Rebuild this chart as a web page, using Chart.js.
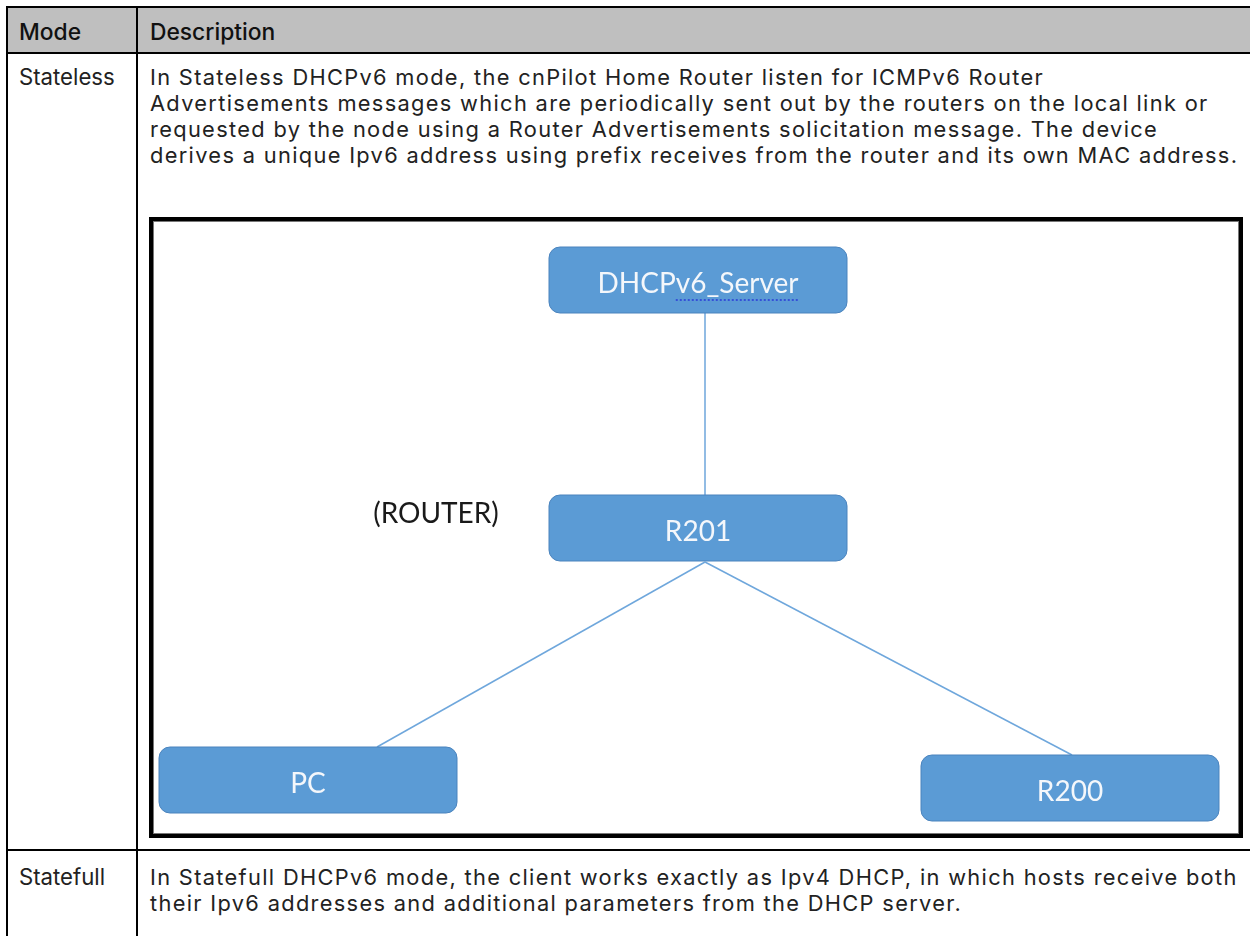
<!DOCTYPE html>
<html>
<head>
<meta charset="utf-8">
<script src="https://cdn.jsdelivr.net/npm/chart.js@4/dist/chart.umd.min.js"></script>
<style>
  html, body { margin: 0; padding: 0; background: #fff; }
  body { width: 1250px; height: 936px; position: relative; overflow: hidden; font-family: Inter, "Open Sans", sans-serif; color: #222; }
  .abs { position: absolute; }
  .line { position: absolute; white-space: nowrap; font-size: 22.2px; line-height: 26px; }
  .hdr { font-weight: 500; color: #111; font-size: 22.8px; }
  #diag { position: absolute; left: 149px; top: 217px; width: 1086px; height: 613px; border: 4px solid #000; box-shadow: inset 0 0 0 1px #777; }
  #c { position: absolute; left: 153px; top: 221px; }
</style>
</head>
<body>
<!-- table structure -->
<div class="abs" style="left:8px;top:8px;width:1242px;height:44px;background:#bfbfbf"></div>
<div class="abs" style="left:6px;top:6px;width:1244px;height:2px;background:#000"></div>
<div class="abs" style="left:6px;top:6px;width:2px;height:930px;background:#000"></div>
<div class="abs" style="left:8px;top:52px;width:1242px;height:2px;background:#000"></div>
<div class="abs" style="left:136px;top:8px;width:2px;height:928px;background:#000"></div>
<div class="abs" style="left:8px;top:849px;width:1242px;height:2px;background:#000"></div>

<div id="text"></div>
<div id="diag"></div>
<canvas id="c" width="1083" height="610"></canvas>

<script>
// ---- table text ----
const headers = ['Mode', 'Description'];
const modes = ['Stateless', 'Statefull'];
const descStateless = [
  'In Stateless DHCPv6 mode, the cnPilot Home Router listen for ICMPv6 Router',
  'Advertisements messages which are periodically sent out by the routers on the local link or',
  'requested by the node using a Router Advertisements solicitation message. The device',
  'derives a unique Ipv6 address using prefix receives from the router and its own MAC address.'
];
const descStatefull = [
  'In Statefull DHCPv6 mode, the client works exactly as Ipv4 DHCP, in which hosts receive both',
  'their Ipv6 addresses and additional parameters from the DHCP server.'
];

// ---- diagram data ----
const nodeLabels = ['DHCPv6_Server', 'R201', 'PC', 'R200'];
const nodeX = [698, 698, 308, 1070];
const nodeY = [280, 528, 780, 788];
const linkFromX = [705, 705, 705];
const linkFromY = [313, 562, 562];
const linkToX = [705, 377, 1072];
const linkToY = [495, 747, 755];
const noteLabels = ['(ROUTER)'];
const noteX = [436];
const noteY = [514];

// build text
const textRoot = document.getElementById('text');
function addLine(str, x, yCenter, cls) {
  const d = document.createElement('div');
  d.className = 'line ' + (cls || '');
  d.textContent = str;
  d.style.left = x + 'px';
  d.style.top = (yCenter - 13) + 'px';
  textRoot.appendChild(d);
  return d;
}
addLine(headers[0], 19, 32, 'hdr');
addLine(headers[1], 150, 32, 'hdr');
addLine(modes[0], 19, 77);
addLine(modes[1], 19, 877);
const bodyLines = [];
descStateless.forEach((s, i) => bodyLines.push(addLine(s, 150, 77 + i * 26)));
descStatefull.forEach((s, i) => bodyLines.push(addLine(s, 150, 877 + i * 26)));
// body: letter spacing fitted so the longest line spans the cell like the reference
bodyLines.forEach(d => d.style.fontSize = '21.8px');
const ref = bodyLines[3];
const natural = ref.getBoundingClientRect().width;
const ls = Math.max(0, (1087 - natural) / (ref.textContent.length - 1));
bodyLines.forEach(d => d.style.letterSpacing = ls + 'px');

// ---- chart ----
const boxPlugin = {
  id: 'boxes',
  afterDatasetsDraw(chart, args, opts) {
    const ctx = chart.ctx;
    const meta = chart.getDatasetMeta(chart.data.datasets.findIndex(d => d.id === 'nodes'));
    meta.data.forEach((pt, i) => {
      const x = pt.x, y = pt.y;
      ctx.save();
      ctx.beginPath();
      ctx.roundRect(x - opts.halfW, y - opts.halfH, opts.halfW * 2, opts.halfH * 2, opts.radius);
      ctx.fillStyle = opts.fill;
      ctx.fill();
      ctx.lineWidth = 1;
      ctx.strokeStyle = opts.stroke;
      ctx.stroke();
      ctx.fillStyle = opts.textColor;
      ctx.font = opts.font;
      ctx.textAlign = 'center';
      ctx.textBaseline = 'middle';
      ctx.fillText(nodeLabels[i], x, y + 4);
      if (i === 0) {
        // dotted spell-check underline under "v6_Server"
        const full = ctx.measureText(nodeLabels[i]).width;
        const pre = ctx.measureText('DHCP').width;
        const sx = x - full / 2 + pre, ex = x + full / 2;
        ctx.strokeStyle = '#2a3ad8';
        ctx.lineWidth = 1.5;
        ctx.setLineDash([2, 2]);
        ctx.beginPath();
        ctx.moveTo(sx, y + 20);
        ctx.lineTo(ex, y + 20);
        ctx.stroke();
      }
      ctx.restore();
    });
    const nmeta = chart.getDatasetMeta(chart.data.datasets.findIndex(d => d.id === 'notes'));
    nmeta.data.forEach((pt, i) => {
      ctx.save();
      ctx.fillStyle = '#1a1a1a';
      ctx.font = opts.font;
      ctx.textAlign = 'center';
      ctx.textBaseline = 'middle';
      ctx.fillText(noteLabels[i], pt.x, pt.y);
      ctx.restore();
    });
  }
};

const linkSets = linkFromX.map((fx, i) => ({
  id: 'link' + i,
  data: [{ x: fx, y: linkFromY[i] }, { x: linkToX[i], y: linkToY[i] }],
  showLine: true,
  borderColor: '#6fa7dc',
  borderWidth: 1.5,
  pointRadius: 0
}));

new Chart(document.getElementById('c'), {
  type: 'scatter',
  data: {
    datasets: [
      ...linkSets,
      { id: 'nodes', data: nodeX.map((x, i) => ({ x, y: nodeY[i] })), pointRadius: 0, showLine: false },
      { id: 'notes', data: noteX.map((x, i) => ({ x, y: noteY[i] })), pointRadius: 0, showLine: false }
    ]
  },
  options: {
    responsive: false,
    animation: false,
    devicePixelRatio: 1,
    layout: { padding: 0 },
    events: [],
    scales: {
      x: { type: 'linear', min: 153, max: 1236, display: false },
      y: { type: 'linear', min: 221, max: 831, reverse: true, display: false }
    },
    plugins: {
      legend: { display: false },
      tooltip: { enabled: false },
      boxes: { halfW: 149, halfH: 33, radius: 11, fill: '#5b9bd5', stroke: '#4a83bd', textColor: '#f4f7fb', font: '28px Lato' }
    }
  },
  plugins: [boxPlugin]
});
</script>
</body>
</html>
